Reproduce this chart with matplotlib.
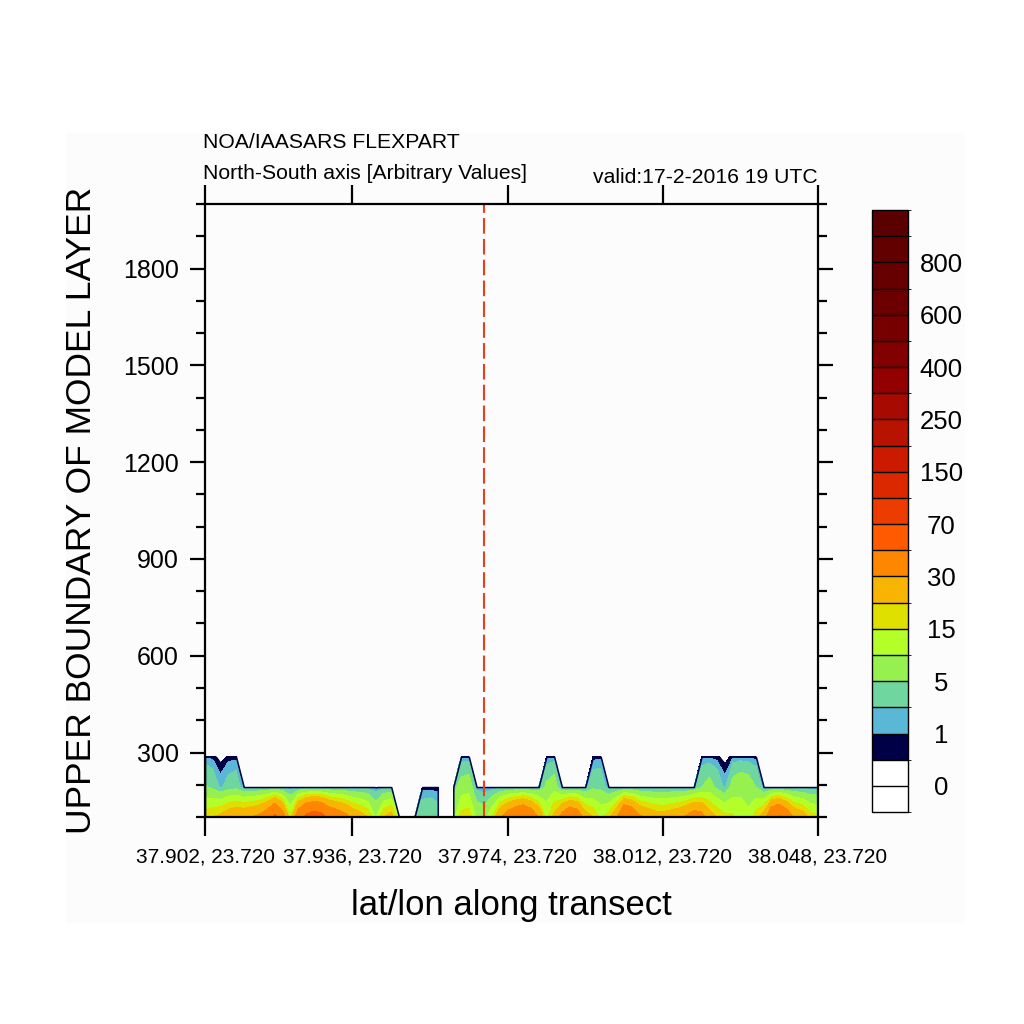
import numpy as np
import matplotlib
matplotlib.use("Agg")
import matplotlib.pyplot as plt
from matplotlib.colors import ListedColormap, BoundaryNorm
from matplotlib.cm import ScalarMappable
from matplotlib.ticker import MultipleLocator
from matplotlib.patches import Rectangle

plt.rcParams['font.family'] = ['Liberation Sans', 'DejaVu Sans']

nan = np.nan

# contour levels of the colour bar
levels = [0, 0.5, 1, 2, 5, 10, 15, 20, 30, 50, 70, 100, 150, 200, 250, 300,
          400, 500, 600, 700, 800, 900]
label_levels = [0, 1, 5, 15, 30, 70, 150, 250, 400, 600, 800]
# box colours, bottom (below 0) to top (above 900)
colours = ['#ffffff', '#ffffff', '#000046', '#5ab8d6', '#6fd6a0', '#96f050',
           '#b4ff28', '#e0e000', '#f7b400', '#ff8600', '#ff5a00', '#ec3c00',
           '#dc2800', '#cc1a00', '#b81200', '#a60a00', '#920000', '#820000',
           '#760000', '#6c0000', '#660000', '#620000', '#5a0000']

# model layer heights and the transect points
heights = [100, 193, 287]
n_points = 80
x_ticks = [0, 19, 39, 59, 79]
x_ticklabels = ['37.902, 23.720', '37.936, 23.720', '37.974, 23.720',
                '38.012, 23.720', '38.048, 23.720']
release_point = 36

# concentration in each layer along the transect (nan = no data)
conc_100 = [18, 20, 22, 26, 28, 28, 30, 33, 40, 55,
            38, 16, 40, 55, 62, 58, 45, 40, 35, 28,
            24, 20, 10, 20, 24, 12, nan, 3, 4, 4.5,
            3.5, nan, 8, 17, 18, 9, 8, 15, 28, 38,
            45, 50, 42, 30, 14, 22, 35, 45, 40, 25,
            20, 14, 18, 28, 50, 45, 32, 28, 25, 24,
            26, 28, 32, 38, 35, 24, 20, 17, 16, 12,
            11, 18, 24, 45, 52, 40, 28, 25, 18, 16]
conc_193 = [5.5, 4.0, 1.6, 3.0, 3.5, 0.8, 0.8, 0.8, 0.8, 0.8,
            0.8, 0.8, 0.8, 0.8, 0.8, 0.8, 0.8, 0.8, 0.8, 0.8,
            0.9, 1.0, 0.4, 1.0, 1.1, nan, nan, nan, 0.6, 0.6,
            0.5, nan, 3.5, 7.0, 8.0, 1.2, 0.5, 0.7, 0.8, 0.8,
            0.8, 0.8, 0.9, 1.2, 6.0, 8.0, 0.7, 0.5, 0.8, 1.0,
            4.0, 4.0, 0.8, 0.8, 0.8, 0.8, 0.8, 0.8, 0.8, 0.8,
            0.8, 0.8, 0.8, 1.2, 5.0, 7.0, 4.0, 1.5, 7.0, 9.0,
            8.0, 5.0, 0.8, 0.8, 0.8, 0.8, 0.8, 0.8, 0.8, 0.8]
conc_287 = [0.9, 0.7, 0.2, 0.6, 0.7, nan, nan, nan, nan, nan,
            nan, nan, nan, nan, nan, nan, nan, nan, nan, nan,
            nan, nan, nan, nan, nan, nan, nan, nan, nan, nan,
            nan, nan, nan, 0.9, 0.9, nan, nan, nan, nan, nan,
            nan, nan, nan, nan, 0.6, 0.8, nan, nan, nan, nan,
            0.6, 0.7, nan, nan, nan, nan, nan, nan, nan, nan,
            nan, nan, nan, nan, 0.7, 0.7, 0.6, 0.2, 0.7, 0.9,
            0.8, 0.6, nan, nan, nan, nan, nan, nan, nan, nan]

conc = np.ma.masked_invalid(np.array([conc_100, conc_193, conc_287]))
xs = np.arange(n_points)

fig = plt.figure(figsize=(10.24, 10.24), dpi=100)
fig.patches.append(Rectangle((0.0645, 0.0986), 0.878, 0.7715, transform=fig.transFigure,
                             facecolor='#fcfcfc', edgecolor='none', zorder=-10))

ax = fig.add_axes([0.2002, 0.2021, 0.5986, 0.5986])
ax.patch.set_visible(False)
ax.contourf(xs, heights, conc, levels=levels, colors=colours[1:-1], corner_mask=True)
# dark outline round the plume
edge = ax.contourf(xs, heights, conc, levels=[levels[1], 1e4], colors='none',
                   corner_mask=True)
edge.set_edgecolor('#000046')
edge.set_linewidth(1.1)
ax.axvline(release_point, color='#e8401c', lw=1.5, linestyle=(0, (7.5, 2.5)))

ax.set_xlim(0, n_points - 1)
ax.set_ylim(100, 2000)
ax.set_xticks(x_ticks)
ax.set_xticklabels(x_ticklabels)
ax.set_yticks([300, 600, 900, 1200, 1500, 1800])
ax.yaxis.set_minor_locator(MultipleLocator(100))
for s in ax.spines.values():
    s.set_linewidth(1.6)
ax.tick_params(axis='x', which='major', direction='out', length=14, width=1.6,
               top=True, labelsize=15, pad=8)
ax.tick_params(axis='y', which='major', direction='out', length=11, width=1.6,
               right=True, labelsize=18, pad=8)
ax.tick_params(axis='y', which='minor', direction='out', length=6.5, width=1.6, right=True)

ax.set_xlabel('lat/lon along transect', fontsize=25)
ax.xaxis.set_label_coords(0.5, -0.1436)
ax.xaxis.label.set_va('center')
ax.set_ylabel('UPPER BOUNDARY OF MODEL LAYER', fontsize=25.5)
ax.yaxis.set_label_coords(-0.2007, 0.5)
ax.yaxis.label.set_va('center')

fig.text(0.198, 0.8613, 'NOA/IAASARS FLEXPART', fontsize=15.2, va='center', ha='left')
fig.text(0.198, 0.831, 'North-South axis [Arbitrary Values]', fontsize=15.2, va='center', ha='left')
fig.text(0.7988, 0.8262, 'valid:17-2-2016 19 UTC', fontsize=15.2, va='center', ha='right')

# colour bar, one box per colour
cax = fig.add_axes([0.8516, 0.2070, 0.0352, 0.5879])
sm = ScalarMappable(norm=BoundaryNorm(np.arange(len(colours) + 1), len(colours)),
                    cmap=ListedColormap(colours))
cb = fig.colorbar(sm, cax=cax, drawedges=True,
                  ticks=[levels.index(v) + 1 for v in label_levels])
cb.set_ticklabels([str(v) for v in label_levels])
cb.outline.set_linewidth(1.0)
cb.dividers.set_linewidth(1.0)
cb.ax.tick_params(length=0, labelsize=18.5, pad=24)
for t in cb.ax.get_yticklabels():
    t.set_ha('center')

fig.savefig('out.png', dpi=100)
